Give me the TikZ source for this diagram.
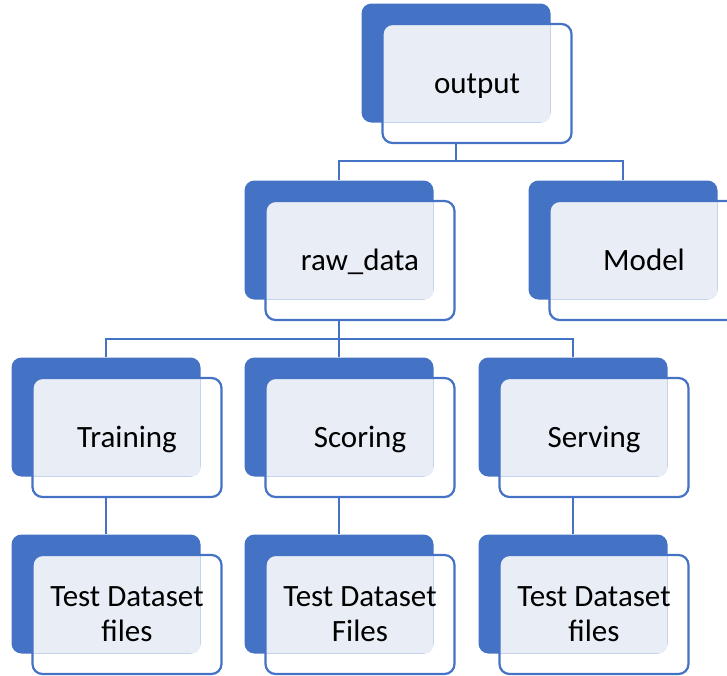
\documentclass[tikz,border=0pt]{standalone}
\usepackage{fontspec}
\setmainfont{Carlito}
\definecolor{smartblue}{HTML}{4472C4}
\definecolor{paleblue}{HTML}{E9EDF6}
\tikzset{
  back/.style = {fill=smartblue, rounded corners=10pt, inner sep=0pt,
    minimum width=189pt, minimum height=119pt},
  front/.style = {draw=smartblue, line width=2.2pt, rounded corners=10pt, inner sep=0pt,
    minimum width=189pt, minimum height=119pt, align=center,
    font=\fontsize{31}{35}\selectfont},
  oneline/.style = {text height=22pt, text depth=2pt},
  twolines/.style = {},
  link/.style = {draw=smartblue, line width=1.6pt},
  fshift/.style = {shift={(21,20.5)}}
}
\begin{document}
\begin{tikzpicture}[x=1pt, y=-1pt]
    \useasboundingbox (0,0) rectangle (727,675);
    \clip (0,0) rectangle (727,675);
    % folders
    \foreach \n/\x/\y/\s/\t in {
      out/456/63/oneline/output,
      raw/339/240/oneline/raw\_data,
      model/623/240/oneline/Model,
      train/106/417/oneline/Training,
      score/339/417/oneline/Scoring,
      serve/573/417/oneline/Serving,
      trainset/106/594/twolines/{Test Dataset\\files},
      scoreset/339/594/twolines/{Test Dataset\\Files},
      serveset/573/594/twolines/{Test Dataset\\files}}{
      \node[back] (\n B) at (\x,\y) {};
      \begin{scope}
        \clip[rounded corners=10pt]
          ([fshift]\n B.north west) rectangle ([fshift]\n B.south east);
        \fill[paleblue, rounded corners=10pt]
          (\n B.north west) rectangle (\n B.south east);
      \end{scope}
      \node[front, \s] (\n) at ([fshift]\n B.center) {\t};
    }
    % draw lines
    \path[link]
      (outB.south |- out.south) -- ++(0,17) -| (rawB.north)
      (outB.south |- out.south) -- ++(0,17) -| (modelB.north)
      (rawB.south |- raw.south) -- ++(0,18) -| (trainB.north)
      (rawB.south |- raw.south) -- (scoreB.north)
      (rawB.south |- raw.south) -- ++(0,18) -| (serveB.north)
      (trainB.south |- train.south) -- (trainsetB.north)
      (scoreB.south |- score.south) -- (scoresetB.north)
      (serveB.south |- serve.south) -- (servesetB.north)
    ;
\end{tikzpicture}
\end{document}
